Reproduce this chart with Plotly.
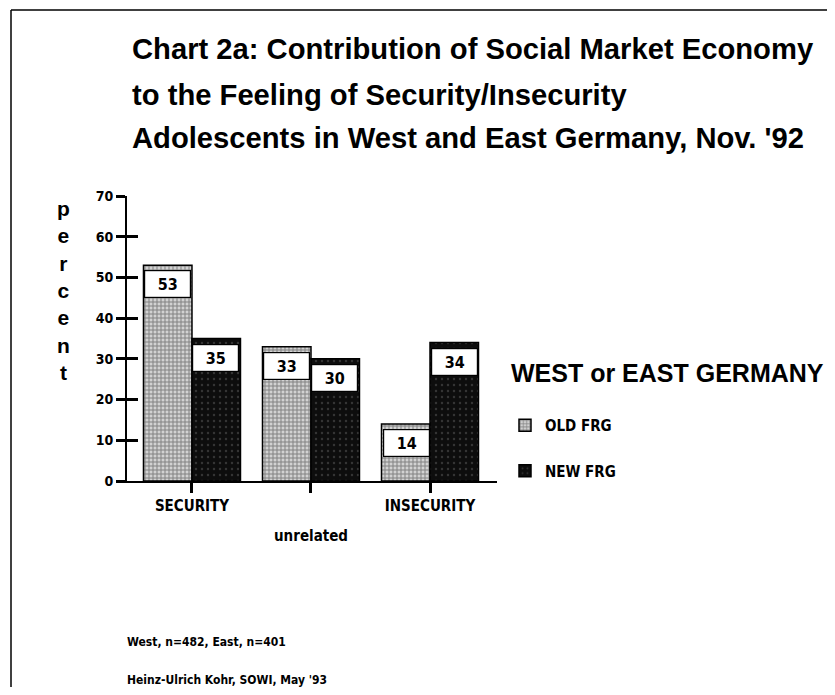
import plotly.graph_objects as go

# ---- data ----
categories = ["SECURITY", "unrelated", "INSECURITY"]
tick_labels = ["SECURITY", "", "INSECURITY"]
old_frg = [53, 33, 14]
new_frg = [35, 30, 34]
series_names = ["OLD FRG", "NEW FRG"]
y_ticks = [0, 10, 20, 30, 40, 50, 60, 70]
title_lines = [
    "Chart 2a: Contribution of Social Market Economy",
    "to the Feeling of Security/Insecurity",
    "Adolescents in West and East Germany, Nov. '92",
]
legend_title = "WEST or EAST GERMANY"
footer_lines = ["West, n=482, East, n=401", "Heinz-Ulrich Kohr, SOWI, May '93"]

# ---- layout geometry (pixels; page body has an 8px margin) ----
OFF = 8
W, H = 835 - OFF, 695 - 2 * OFF
X0, X1, Y0, Y1 = 127, 497, 196, 481          # plot area in page pixels
L, R, T, B = X0 - OFF, W - (X1 - OFF), Y0 - OFF, H - (Y1 - OFF)
PW, PH = X1 - X0, Y1 - Y0

def px(xp):
    return (xp - X0) / PW

def py(yp):
    return (Y1 - yp) / PH

NARROW = "DejaVu Sans Condensed, Liberation Sans Narrow, DejaVu Sans, sans-serif"
BOLD = "Liberation Sans, Arial, sans-serif"

def nfont(size):
    return dict(family=NARROW, size=size, color="black", weight="bold")

fig = go.Figure()
fig.add_trace(go.Bar(
    name=series_names[0], x=categories, y=old_frg, legendgroup="a",
    marker=dict(color="#cfcfcf", line=dict(color="black", width=1.5),
                pattern=dict(shape="+", fgcolor="#333333", bgcolor="#d2d2d2", size=4, solidity=0.45)),
))
fig.add_trace(go.Bar(
    name=series_names[1], x=categories, y=new_frg, legendgroup="b",
    marker=dict(color="#0d0d0d", line=dict(color="black", width=1.5),
                pattern=dict(shape=".", fgcolor="#5c5c5c", bgcolor="#0d0d0d", size=6, solidity=0.12)),
))
# invisible trace on an overlaid axis to draw the inner half of the y ticks
fig.add_trace(go.Scatter(x=[categories[0]], y=[0], yaxis="y2", mode="markers",
                         marker=dict(opacity=0), showlegend=False, hoverinfo="skip"))

annotations = []
for vals, shift in ((old_frg, -24), (new_frg, 24)):
    for c, v in zip(categories, vals):
        annotations.append(dict(
            x=c, y=v, xref="x", yref="y", xshift=shift, yshift=-5,
            yanchor="top", xanchor="center", showarrow=False,
            text=str(v), width=45, height=26, borderpad=0,
            bgcolor="white", bordercolor="black", borderwidth=1.2,
            font=nfont(16), valign="middle",
        ))

# staggered middle category label
annotations.append(dict(
    x=categories[1], y=py(536), xref="x", yref="paper", xanchor="center", yanchor="middle",
    text=categories[1], showarrow=False, font=nfont(15),
))

centers = [49, 95, 138]
for line, cy in zip(title_lines, centers):
    annotations.append(dict(
        x=px(130), y=py(cy), xref="paper", yref="paper", xanchor="left", yanchor="middle",
        text=f"<b>{line}</b>", showarrow=False,
        font=dict(family=BOLD, size=29.2, color="black"),
    ))

# legend heading
annotations.append(dict(
    x=px(509), y=py(373), xref="paper", yref="paper", xanchor="left", yanchor="middle",
    text=f"<b>{legend_title}</b>", showarrow=False,
    font=dict(family=BOLD, size=25, color="black"),
))

annotations.append(dict(
    x=px(63), y=py(290), xref="paper", yref="paper", xanchor="center", yanchor="middle",
    text="<b>" + "<br>".join("percent") + "</b>", showarrow=False,
    font=dict(family=BOLD, size=21, color="black"),
))

for line, cy in zip(footer_lines, [642, 680]):
    annotations.append(dict(
        x=px(125), y=py(cy), xref="paper", yref="paper", xanchor="left", yanchor="middle",
        text=line, showarrow=False, font=nfont(12),
    ))

# page frame: only the top and left edges are visible in the scan
shapes = [
    dict(type="line", xref="paper", yref="paper", x0=px(11), x1=px(900), y0=py(10), y1=py(10),
         line=dict(color="black", width=1.5)),
    dict(type="line", xref="paper", yref="paper", x0=px(11), x1=px(11), y0=py(10), y1=py(900),
         line=dict(color="black", width=1.5)),
]

fig.update_layout(
    width=W, height=H,
    margin=dict(l=L, r=R, t=T, b=B, pad=0),
    paper_bgcolor="white", plot_bgcolor="white",
    barmode="group", bargap=0.185, bargroupgap=0,
    showlegend=True,
    legend=dict(
        x=px(505), y=py(409), xanchor="left", yanchor="top",
        font=nfont(15),
        tracegroupgap=23, traceorder="grouped", bgcolor="rgba(0,0,0,0)",
    ),
    xaxis=dict(
        type="category", range=[-0.546, 2.563],
        tickvals=categories, ticktext=tick_labels,
        ticks="outside", ticklen=10, tickwidth=3, tickcolor="black",
        showline=True, linecolor="black", linewidth=2, showgrid=False, zeroline=False,
        tickfont=nfont(15),
    ),
    yaxis=dict(
        range=[0, 70], tickvals=y_ticks,
        ticks="outside", ticklen=9, tickwidth=3, tickcolor="black",
        showline=True, linecolor="black", linewidth=2, showgrid=False, zeroline=False,
        tickfont=nfont(14),
    ),
    yaxis2=dict(
        range=[0, 70], tickvals=y_ticks, overlaying="y", side="left",
        ticks="inside", ticklen=11, tickwidth=3, tickcolor="black",
        showticklabels=False, showline=False, showgrid=False, zeroline=False,
    ),
    annotations=annotations,
    shapes=shapes,
)

fig.write_html("out.html")
